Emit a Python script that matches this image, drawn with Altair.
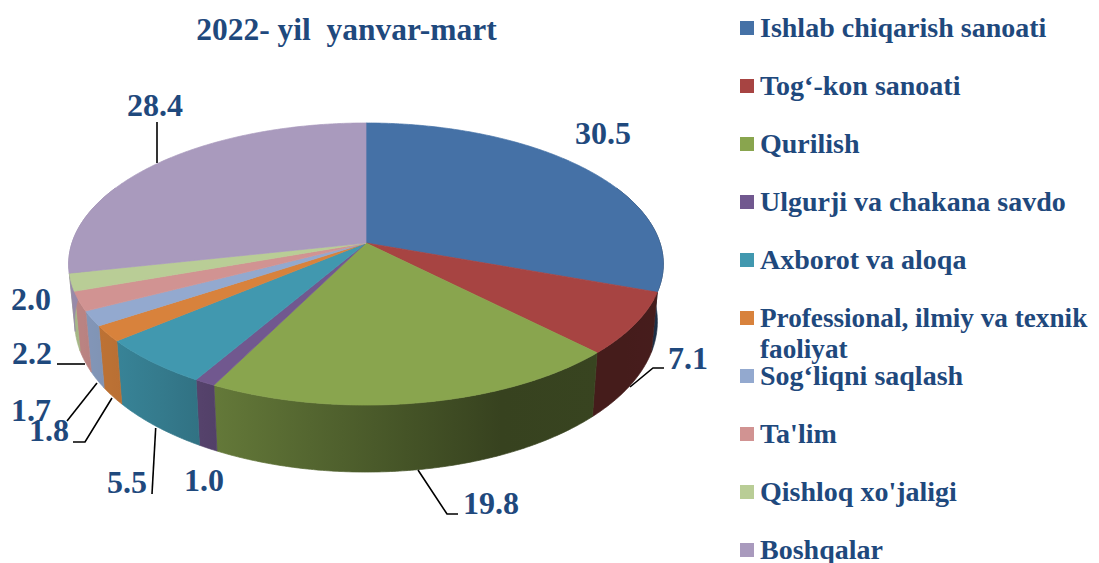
import math
import numpy as np
import altair as alt

# ---- data ----
CATEGORIES = ["Ishlab chiqarish sanoati", "Tog‘-kon sanoati", "Qurilish",
              "Ulgurji va chakana savdo", "Axborot va aloqa",
              "Professional, ilmiy va texnik\nfaoliyat", "Sog‘liqni saqlash",
              "Ta'lim", "Qishloq xo'jaligi", "Boshqalar"]
VALUES = [30.5, 7.1, 19.8, 1.0, 5.5, 1.8, 1.7, 2.2, 2.0, 28.4]
VALUE_TEXT = ["30.5", "7.1", "19.8", "1.0", "5.5", "1.8", "1.7", "2.2", "2.0", "28.4"]
TITLE = "2022- yil \u00a0yanvar-mart"

# ---- styling / layout (picture pixel coordinates) ----
COLORS = ["#4571A6", "#A74442", "#89A54E", "#71588F", "#4198AF",
          "#D8823C", "#93A9CF", "#D19392", "#B9CD96", "#A99ABD"]
NAVY = "#1F497D"
FONT = "Liberation Serif"
W, H = 1083, 555
CX, CY, RAD, K, A = 366.0, 243.0, 294.0, -0.149, 101.7
LABEL_POS = [(603, 144), (688, 369), (491, 514), (204, 491), (127, 493),
             (49, 441), (31, 421), (32, 364), (31, 310), (155, 116)]
LEADERS = [[], [(630, 387), (653, 368), (664, 368)], [(418, 470), (447, 514), (458, 514)],
           [], [(155.7, 428), (152, 494)], [(112, 398), (85, 442), (73, 442)],
           [(97, 383), (67, 421)], [(85, 364), (57, 364)], [], [(157, 122), (157, 163)]]


def top(deg):
    t = math.radians(deg)
    u, v = math.sin(t), -math.cos(t)
    d = 1 + K * v
    return CX + RAD * u / d, (CY + A * v) / d


def bottom(deg):
    x, y = top(deg)
    v = -math.cos(math.radians(deg))
    return CX + 0.98 * (x - CX), y + 56 + 11 * v


def shade(hex_color, x):
    f = float(np.interp(x, [67, 120, 215, 340, 500, 660], [.9, .86, .73, .58, .4, .42]))
    c = [int(hex_color[i:i + 2], 16) for i in (1, 3, 5)]
    return "#%02x%02x%02x" % tuple(int(round(p * f)) for p in c)


def feature(ring, name, color):
    ring = [list(p) for p in ring]
    ring.append(ring[0])
    return {"type": "Feature", "properties": {"name": name, "fill": color},
            "geometry": {"type": "Polygon", "coordinates": [ring]}}


IDENTITY = dict(type="identity", scale=1, translate=[-8, -8])


def wall_layer(i, a0, a1):
    angles = [float(a) for a in np.linspace(a0, a1, max(3, int((a1 - a0) * 2)))]
    ring = [top(a) for a in angles] + [bottom(a) for a in reversed(angles)]
    xs_ = [p[0] for p in ring]
    lo, hi = min(xs_), max(xs_)
    stops = [alt.GradientStop(offset=o, color=shade(COLORS[i], lo + o * (hi - lo)))
             for o in [0, .25, .5, .75, 1]]
    grad = alt.LinearGradient(gradient="linear", x1=0, y1=0, x2=1, y2=0, stops=stops)
    return alt.Chart(alt.Data(values=[feature(ring, CATEGORIES[i], COLORS[i])])).mark_geoshape(
        fill=grad, stroke=grad, strokeWidth=0.7).project(**IDENTITY)


total = sum(VALUES)
edges = [float(e) for e in np.cumsum([0] + VALUES) / total * 360]
walls, tops = [], []
for i, name in enumerate(CATEGORIES):
    a0, a1 = edges[i], edges[i + 1]
    angles = [float(a) for a in np.linspace(a0, a1, max(3, int((a1 - a0) * 2)))]
    tops.append(feature([(CX, CY)] + [top(a) for a in angles], name, COLORS[i]))
    lo, hi = max(a0, 65.0), min(a1, 295.0)
    if hi > lo:
        walls.append(wall_layer(i, lo, hi))

top_layer = alt.Chart(alt.Data(values=tops)).mark_geoshape(strokeWidth=0.7).encode(
    fill=alt.Fill("properties.fill:N", scale=None),
    stroke=alt.Stroke("properties.fill:N", scale=None),
).project(**IDENTITY)

XS = alt.Scale(domain=[8, 8 + W], nice=False, zero=False)
YS = alt.Scale(domain=[8 + H, 8], nice=False, zero=False)
xs = alt.X("x:Q", axis=None, scale=XS)
ys = alt.Y("y:Q", axis=None, scale=YS)

leader_rows = [{"id": i, "o": j, "x": p[0], "y": p[1]}
               for i, pts in enumerate(LEADERS) for j, p in enumerate(pts)]
leaders = alt.Chart(alt.Data(values=leader_rows)).mark_line(color="black", strokeWidth=1.6).encode(
    x=xs, y=ys, detail="id:N", order="o:Q")

value_rows = [{"t": t, "x": p[0], "y": p[1]} for t, p in zip(VALUE_TEXT, LABEL_POS)]
value_text = alt.Chart(alt.Data(values=value_rows)).mark_text(
    font=FONT, fontWeight="bold", fontSize=32, color=NAVY, align="center", baseline="alphabetic"
).encode(x=xs, y=ys, text="t:N")

title_text = alt.Chart(alt.Data(values=[{"t": TITLE, "x": 346.5, "y": 40}])).mark_text(
    font=FONT, fontWeight="bold", fontSize=31.5, color=NAVY, align="center", baseline="alphabetic"
).encode(x=xs, y=ys, text="t:N")

legend_rows = [{"t": c, "col": COLORS[i], "sx": 747, "tx": 760, "sy": 28 + 58 * i, "ty": 37 + 58 * i,
                "fs": 27.2 if "\n" in c else 28}
               for i, c in enumerate(CATEGORIES)]
legend_sym = alt.Chart(alt.Data(values=legend_rows)).mark_square(size=196, opacity=1).encode(
    x=alt.X("sx:Q", axis=None, scale=XS), y=alt.Y("sy:Q", axis=None, scale=YS),
    color=alt.Color("col:N", scale=None))
legend_txt = alt.Chart(alt.Data(values=legend_rows)).mark_text(
    font=FONT, fontWeight="bold", color=NAVY, align="left", baseline="alphabetic",
    lineBreak="\n", lineHeight=31
).encode(x=alt.X("tx:Q", axis=None, scale=XS), y=alt.Y("ty:Q", axis=None, scale=YS), text="t:N",
         size=alt.Size("fs:Q", scale=None))

chart = alt.layer(*walls, top_layer, leaders, value_text, title_text, legend_sym, legend_txt).properties(
    width=W, height=H, padding=0, background="white",
    autosize=alt.AutoSizeParams(type="none"),
).configure_view(strokeWidth=0)

chart.save("out.html", embed_options={"renderer": "svg", "actions": False})
